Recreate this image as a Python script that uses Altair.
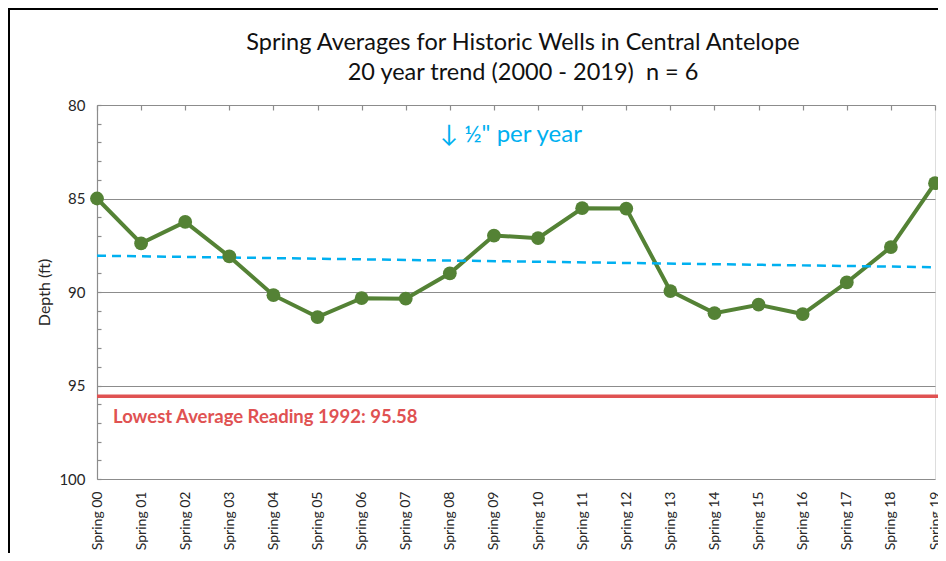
import json
import altair as alt
import pandas as pd

seasons = ["Spring 00", "Spring 01", "Spring 02", "Spring 03", "Spring 04",
           "Spring 05", "Spring 06", "Spring 07", "Spring 08", "Spring 09",
           "Spring 10", "Spring 11", "Spring 12", "Spring 13", "Spring 14",
           "Spring 15", "Spring 16", "Spring 17", "Spring 18", "Spring 19"]
depth = [85.0, 87.4, 86.25, 88.1, 90.17, 91.34, 90.33, 90.36, 89.0, 86.98,
         87.12, 85.52, 85.54, 89.95, 91.13, 90.68, 91.18, 89.49, 87.6, 84.18]
lowest_value = 95.58
lowest_label = "Lowest Average Reading 1992: 95.58"
trend_label = "\u2193 \u00bd\" per year"
title_lines = ["Spring Averages for Historic Wells in Central Antelope",
               "20 year trend (2000 - 2019)\u00a0 n = 6"]
y_major = [80, 85, 90, 95, 100]
y_minor = list(range(80, 101))

df = pd.DataFrame({"i": list(range(len(seasons))), "season": seasons, "depth": depth})
low_df = pd.DataFrame({"depth": [lowest_value], "label": [lowest_label]})
ann_df = pd.DataFrame({"label": [trend_label]})
title1_df = pd.DataFrame({"label": [title_lines[0]]})
title2_df = pd.DataFrame({"label": [title_lines[1]]})

W, H = 838, 374
FONT = "Lato"
GRID = "#8c8c8c"
GREEN = "#548235"
BLUE = "#00B0F0"
RED = "#E05252"
TXT = "#262626"

label_expr = json.dumps(seasons) + "[datum.value]"

xscale = alt.Scale(domain=[0, len(seasons) - 1], nice=False, zero=False)
yscale = alt.Scale(domain=[80, 100], reverse=True, nice=False, zero=False)

x_main = alt.X("i:Q", scale=xscale, axis=alt.Axis(
    values=list(range(len(seasons))), labelExpr=label_expr, labelAngle=270,
    ticks=False, domain=False, grid=False, title=None, labelFontSize=14,
    labelFont=FONT, labelColor=TXT, labelPadding=12, labelFontWeight="normal"))
y_main = alt.Y("depth:Q", scale=yscale, axis=alt.Axis(
    values=y_major, grid=True, gridColor=GRID, gridWidth=1.2, domain=True,
    domainColor=GRID, domainWidth=1.2, ticks=False, title="Depth (ft)",
    titleFont=FONT, titleFontSize=16, titleFontWeight="normal", titleColor=TXT,
    titlePadding=6, labelFont=FONT, labelFontSize=15, labelColor=TXT,
    labelPadding=12))

X0 = alt.X("i:Q", scale=xscale, axis=None)
Y0 = alt.Y("depth:Q", scale=yscale, axis=None)

# minor tick axes (no marks drawn)
minor = alt.Chart(df).mark_point(opacity=0).encode(
    x=alt.X("i:Q", scale=xscale, axis=alt.Axis(
        orient="top", values=list(range(len(seasons))), labels=False, domain=False,
        grid=False, tickSize=5, offset=-5, tickColor=GRID, tickWidth=1.2, title=None)),
    y=alt.Y("depth:Q", scale=yscale, axis=alt.Axis(
        orient="left", values=y_minor, labels=False, domain=False, grid=False,
        tickSize=4, offset=-4, tickColor=GRID, tickWidth=1.2, title=None)),
)

# chart-area border (left and top edges, the others lie outside the picture)
frame_left = alt.Chart(ann_df).mark_rule(color="#000000", strokeWidth=2).encode(
    x=alt.value(-88), y=alt.value(-97), y2=alt.value(H + 200))
frame_top = alt.Chart(ann_df).mark_rule(color="#000000", strokeWidth=2).encode(
    y=alt.value(-96), x=alt.value(-89), x2=alt.value(W + 200))

title1 = alt.Chart(title1_df).mark_text(
    font=FONT, fontSize=23.5, color="#111111", align="center", baseline="middle").encode(
    x=alt.value(W / 2 + 7), y=alt.value(-62), text="label:N")
title2 = alt.Chart(title2_df).mark_text(
    font=FONT, fontSize=23.5, color="#111111", align="center", baseline="middle").encode(
    x=alt.value(W / 2 + 7), y=alt.value(-32), text="label:N")

low_rule = alt.Chart(low_df).mark_rule(color=RED, strokeWidth=3.5).encode(
    y=Y0, x=alt.value(0), x2=alt.value(W + 5))
low_text = alt.Chart(low_df).mark_text(
    color=RED, font=FONT, fontSize=18.5, fontWeight="bold", align="left",
    baseline="middle", dy=21).encode(y=Y0, x=alt.value(16), text="label:N")

trend = alt.Chart(df).transform_regression(
    "i", "depth", extent=[0, len(seasons) - 1]).mark_line(
    color=BLUE, strokeWidth=2.5, strokeDash=[9, 6]).encode(x=X0, y=Y0)

line = alt.Chart(df).mark_line(color=GREEN, strokeWidth=4).encode(x=x_main, y=y_main)
pts = alt.Chart(df).mark_circle(color=GREEN, size=190, opacity=1).encode(x=X0, y=Y0)

ann = alt.Chart(ann_df).mark_text(
    color=BLUE, font=FONT, fontSize=24, align="center", baseline="middle").encode(
    x=alt.value(414), y=alt.value(30), text="label:N")

chart = alt.layer(line, minor, frame_left, frame_top, title1, title2, low_rule, low_text,
                  trend, pts, ann).resolve_axis(
    x="independent", y="independent"
).properties(
    width=W, height=H,
    autosize=alt.AutoSizeParams(type="none"),
    padding={"left": 89, "top": 97, "right": 3, "bottom": 74},
).configure_view(stroke=None).configure(background="white")

chart.save("out.html", embed_options={"renderer": "svg", "actions": False})
